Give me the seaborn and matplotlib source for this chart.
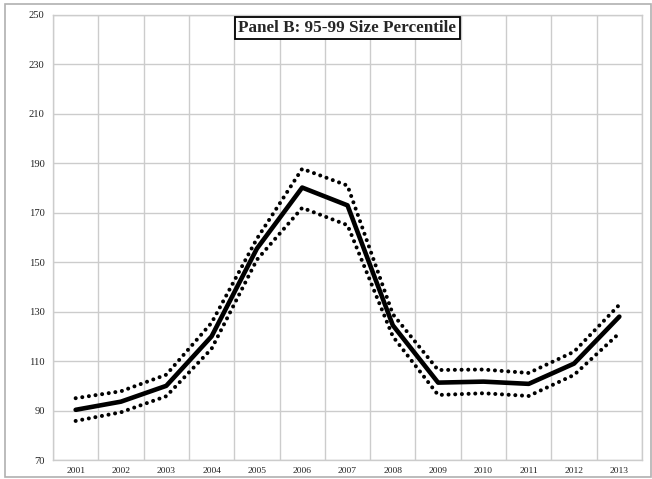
import numpy as np
import pandas as pd
import matplotlib
matplotlib.use("Agg")
import matplotlib.pyplot as plt
import seaborn as sns

years = ["2001", "2002", "2003", "2004", "2005", "2006", "2007",
         "2008", "2009", "2010", "2011", "2012", "2013"]
estimate = [90.3, 93.6, 100.0, 120.0, 155.5, 180.2, 173.0,
            124.5, 101.3, 101.7, 100.8, 109.0, 128.0]
upper_band = [95.0, 97.8, 104.5, 125.5, 159.5, 187.8, 181.0,
              129.0, 106.4, 106.6, 105.2, 113.8, 132.8]
lower_band = [85.8, 89.3, 95.8, 115.0, 151.0, 172.0, 165.0,
              120.0, 96.3, 97.0, 95.9, 104.4, 121.3]

y_ticks = [70, 90, 110, 130, 150, 170, 190, 210, 230, 250]
title = "Panel B: 95-99 Size Percentile"

sns.set_style("white")
plt.rcParams['font.family'] = ['Liberation Serif', 'DejaVu Serif']

df = pd.DataFrame({"x": np.arange(len(years)), "mid": estimate,
                   "hi": upper_band, "lo": lower_band})

fig = plt.figure(figsize=(6.52, 4.79), dpi=100)
ax = fig.add_axes([53 / 652, 19 / 479, 589 / 652, 445 / 479])

# dotted confidence bands, then the point estimate on top
for col in ["hi", "lo"]:
    sns.lineplot(data=df, x="x", y=col, ax=ax, color="black", lw=2.9)
sns.lineplot(data=df, x="x", y="mid", ax=ax, color="black", lw=3.3)
for line in ax.lines[:2]:
    line.set_linestyle((0, (0.01, 1.65)))
    line.set_dash_capstyle("round")

ax.set_xlim(-0.5, len(years) - 0.5)
ax.set_ylim(70, 250)
ax.set_xticks(np.arange(len(years)))
ax.set_xticklabels(years)
ax.set_xticks(np.arange(-0.5, len(years)), minor=True)
ax.set_yticks(y_ticks)
ax.set_xlabel("")
ax.set_ylabel("")
ax.grid(False)
ax.grid(which="minor", axis="x", color="#cccccc", lw=1.0)
ax.grid(which="major", axis="y", color="#cccccc", lw=1.0)
ax.set_axisbelow(True)
ax.tick_params(axis="both", which="both", length=0, colors="#222222")
ax.tick_params(axis="x", pad=5, labelsize=6.8)
ax.tick_params(axis="y", pad=6, labelsize=7.6)
for s in ax.spines.values():
    s.set_color("#cccccc")
    s.set_linewidth(1.0)

ax.text(0.5, 0.97, title, transform=ax.transAxes, ha="center", va="center",
        fontsize=12.3, fontweight="bold",
        bbox=dict(boxstyle="square,pad=0.18", fc="white", ec="black", lw=1.3))

fig.patches.append(plt.Rectangle((5 / 652, 2 / 479), 646 / 652, 473 / 479,
                                 transform=fig.transFigure, fill=False,
                                 ec="#b0b0b0", lw=1.2))

fig.savefig("out.png", dpi=100)
